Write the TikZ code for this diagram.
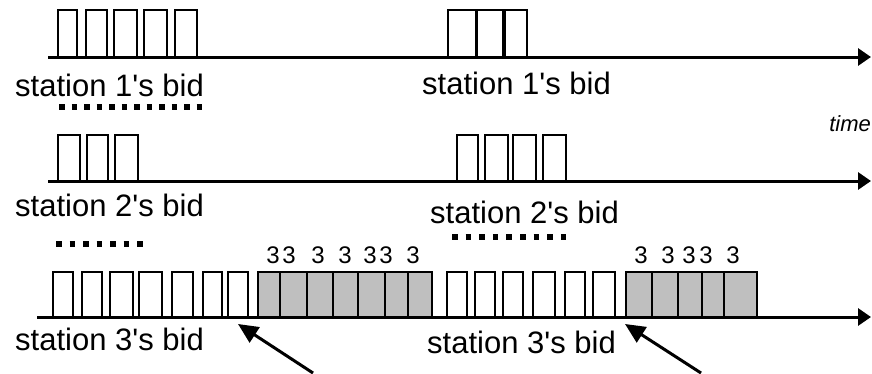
\documentclass[tikz,border=0pt]{standalone}
\usepackage{fontspec}
\setmainfont{Liberation Sans}
\usepackage{tikz}
\usetikzlibrary{arrows.meta}
\tikzstyle{axis}=[draw,line width=3pt,-{Triangle[length=13pt,width=17pt]}]
\tikzstyle{slot}=[draw,line width=2pt]
\tikzstyle{busy}=[slot,fill=gray!50]
\tikzstyle{bid}=[font=\fontsize{31}{36}\selectfont,anchor=base west,inner sep=0pt]
\tikzstyle{digit}=[font=\fontsize{24}{28}\selectfont,inner sep=0pt]
\tikzstyle{dots}=[line width=5.5pt]
\tikzstyle{pointer}=[draw,line width=3pt,-{Triangle[length=20pt,width=18pt]}]

\begin{document}
\begin{tikzpicture}[x=1pt,y=-1pt]
    \useasboundingbox (0,0) rectangle (872,373);
    % time axes of the three stations
    \foreach \name/\x/\y in {t1/48/57, t2/48/181, t3/37/317} {
        \coordinate (\name s) at (\x,\y);
        \coordinate (\name e) at (871,\y);
        \draw[axis] (\name s) -- (\name e);
    }
    % bid pulses, station 1 and 2
    \foreach \a/\b in {58/77, 86/107, 114/137, 144/167, 175/197,
                       448/476, 477/503, 505/527}
        \draw[slot] (\a,57) rectangle (\b,10);
    \foreach \a/\b in {58/80, 87/108, 115/138,
                       457/478, 485/508, 513/536, 543/566}
        \draw[slot] (\a,181) rectangle (\b,135);
    % station 3: bid pulses, then its data slots
    \foreach \a/\b in {53/73, 82/102, 110/133, 139/162, 172/193, 203/222, 228/248,
                       447/467, 475/495, 503/523, 533/555, 565/585, 593/615}
        \draw[slot] (\a,317) rectangle (\b,272);
    \foreach \a/\b in {258/280, 280/307, 307/333, 333/358, 358/385, 385/408, 408/432,
                       626/652, 652/678, 678/702, 702/724, 724/757}
        \draw[busy] (\a,317) rectangle (\b,272);
    \foreach \x [count=\i] in {273, 289, 318, 345, 370, 386, 413,
                               641, 668, 689, 706, 733}
        \node[digit] (three\i) at (\x,255) {3};

    % labels
    \foreach \pos/\name/\txt in {{(15,96)/bid1a/1}, {(422,94)/bid1b/1},
                                 {(15,216)/bid2a/2}, {(430,223)/bid2b/2},
                                 {(15,350)/bid3a/3}, {(427,353)/bid3b/3}}
        \node[bid] (\name) at \pos {station \txt\textquotesingle s bid};
    \node[font=\fontsize{22}{26}\selectfont\itshape,anchor=base east,inner sep=0pt]
        (time) at (871,131) {time};

    % dotted marks under the labels
    \foreach \x/\y/\len/\gap in {59/107/143/7, 56/244/87/8, 452/237/115/8.1}
        \draw[dots,dash pattern=on 5.5pt off \gap pt] (\x,\y) -- ++(\len,0);

    % pointers to the slot boundaries
    \coordinate (p1) at (313,373);
    \coordinate (q1) at (238,324);
    \coordinate (p2) at (701,373);
    \coordinate (q2) at (625,324);
    \draw[pointer] (p1) -- (q1);
    \draw[pointer] (p2) -- (q2);
\end{tikzpicture}
\end{document}
